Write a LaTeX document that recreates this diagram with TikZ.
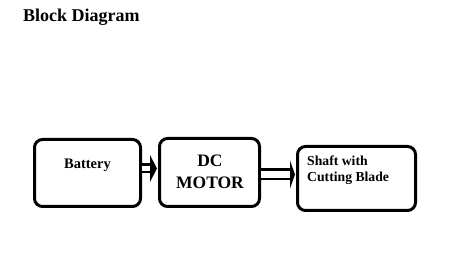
\documentclass[tikz,border=0pt]{standalone}
\usepackage{fontspec}
\setmainfont{Liberation Serif}
\begin{document}
\begin{tikzpicture}[x=1pt,y=-1pt,
  blockbox/.style={draw,line width=3pt,rounded corners=8pt,inner sep=0pt},
  txt/.style={inner sep=0pt,font=\bfseries},
  dblarrow/.style={double,line width=2.5pt,double distance=#1}]
\useasboundingbox (0,0) rectangle (463,264);
\node[txt,anchor=base west,font=\fontsize{18}{22}\selectfont\bfseries] (title) at (23,22) {Block Diagram};
\node[blockbox,minimum width=106pt,minimum height=67pt] (battery) at (87.5,173) {};
\node[blockbox,minimum width=100pt,minimum height=68pt] (motor) at (209.5,172.5) {};
\node[blockbox,minimum width=118pt,minimum height=64pt] (shaft) at (356.5,178.5) {};
\node[txt,anchor=base,font=\fontsize{14.5}{16}\selectfont\bfseries] (batterytext) at (87.5,169) {Battery};
\node[txt,anchor=base,align=center,font=\fontsize{17.5}{22}\selectfont\bfseries] (motortext) at (210,189) {DC\\MOTOR};
\node[txt,anchor=base west,align=left,font=\fontsize{13.7}{16}\selectfont\bfseries] (shafttext) at (307,182) {Shaft with\\Cutting Blade};
\coordinate (a1s) at (battery.east |- 0,168.5);
\coordinate (a1e) at ([xshift=-1pt]motor.west |- 0,168.5);
\coordinate (a2s) at (motor.east |- 0,174.5);
\coordinate (a2e) at ([xshift=-1pt]shaft.west |- 0,174.5);
\draw[dblarrow=5pt,shorten >=5pt] (a1s) -- (a1e);
\fill (a1e) -- ++(-7,-13.5) -- ++(0,27) -- cycle;
\draw[dblarrow=7pt,shorten >=4pt] (a2s) -- (a2e);
\fill (a2e) -- ++(-5,-14) -- ++(0,28) -- cycle;
\end{tikzpicture}
\end{document}
